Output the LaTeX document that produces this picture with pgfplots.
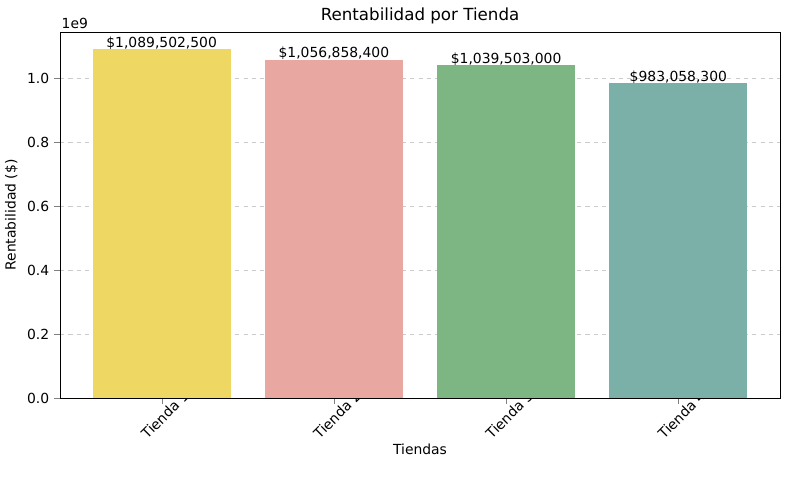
\documentclass[border=0pt]{standalone}
\usepackage{pgfplots}
\pgfplotsset{compat=1.18}
\usepackage{fontspec}
\setmainfont{DejaVu Sans}
\usetikzlibrary{calc}
\definecolor{c1}{HTML}{EED762}
\definecolor{c2}{HTML}{E8A8A1}
\definecolor{c3}{HTML}{7DB683}
\definecolor{c4}{HTML}{7BB0A9}
\begin{document}
\begin{tikzpicture}
\begin{axis}[name=ax, scale only axis, width=518pt, height=263.5pt,
  xmin=-0.59, xmax=3.59, ymin=0, ymax=1.144,
  xtick={0,1,2,3}, xticklabels={Tienda 1,Tienda 2,Tienda 3,Tienda 4},
  xticklabel style={rotate=45, anchor=north east, inner sep=1pt, xshift=19pt, yshift=-2pt},
  ytick={0,0.2,0.4,0.6,0.8,1.0},
  yticklabel style={/pgf/number format/.cd, fixed, fixed zerofill, precision=1},
  /pgf/number format/assume math mode=true,
  tick align=outside, tick pos=left,
  ymajorgrids, grid style={dashed, gray!40},
  xlabel={Tiendas}, ylabel={Rentabilidad (\$)},
  xlabel style={yshift=2pt},
  title={Rentabilidad por Tienda},
  title style={yshift=-4pt, font=\fontsize{12}{14}\selectfont},
  label style={font=\fontsize{10}{12}\selectfont},
  every tick label/.append style={font=\fontsize{10}{12}\selectfont},
  nodes near coords, point meta=explicit symbolic,
  every node near coord/.append style={font=\fontsize{10}{12}\selectfont, inner sep=1pt, yshift=-1pt},
]
\addplot[ybar, bar width=0.8, fill=c1, draw=none] table[meta=l] {
x y l
0 1.0895025 {\$1,089,502,500}
};
\addplot[ybar, bar width=0.8, fill=c2, draw=none] table[meta=l] {
x y l
1 1.0568584 {\$1,056,858,400}
};
\addplot[ybar, bar width=0.8, fill=c3, draw=none] table[meta=l] {
x y l
2 1.039503 {\$1,039,503,000}
};
\addplot[ybar, bar width=0.8, fill=c4, draw=none] table[meta=l] {
x y l
3 0.9830583 {\$983,058,300}
};
\end{axis}
\node[anchor=south west, font=\fontsize{10}{12}\selectfont, inner sep=1pt] at ($(ax.north west)+(0,1pt)$) {1e9};
\pgfresetboundingbox
\path[use as bounding box] ($(ax.south west)+(-43.2pt,-66.2pt)$) rectangle ($(ax.north east)+(7.2pt,23pt)$);
\end{tikzpicture}
\end{document}
